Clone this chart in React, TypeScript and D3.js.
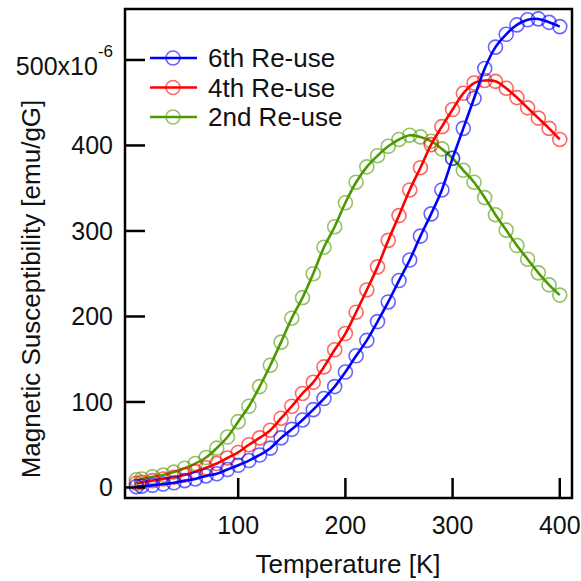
import React from "react";
import * as d3 from "d3";

const tempK = [5, 10, 20, 30, 40, 50, 60, 70, 80, 90, 100, 110, 120, 130, 140, 150, 160, 170, 180, 190, 200, 210, 220, 230, 240, 250, 260, 270, 280, 290, 300, 310, 320, 330, 340, 350, 360, 370, 380, 390, 400];

const reuse6 = [1, 1.5, 2.5, 4, 5.5, 8, 10, 13.5, 16, 21, 26, 31.5, 38, 46, 58, 68, 79, 91, 104, 118, 135, 154, 172, 194, 217, 242, 266, 294, 320, 348, 385, 420, 455, 490, 515, 530, 541, 547, 548, 544, 539];
const reuse4 = [5, 6, 8, 10, 12, 14.5, 18.5, 23, 28, 34.5, 41, 50, 58, 67, 81, 95, 110, 123, 141, 161, 180, 205, 231, 258, 289, 318, 348, 374, 401, 422, 442, 461, 473, 476, 475, 467, 456, 444, 432, 420, 407];
const reuse2 = [9, 10, 12.5, 14.5, 18, 22.5, 28, 35, 46, 59, 77, 95, 118, 143, 170, 198, 222, 250, 281, 305, 333, 357, 375, 388, 399, 407, 412, 410, 405, 396, 385, 371, 357, 339, 319, 301, 283, 267, 251, 237, 225];

const seriesNames = ["6th Re-use", "4th Re-use", "2nd Re-use"];
const seriesColors = ["#0000ff", "#ff0000", "#4c9a00"];
const xTicks = [100, 200, 300, 400];
const yTicks = [0, 100, 200, 300, 400, 500];

const W = 581, H = 581;
const L = 125, R = 572, T = 9, B = 498;
const FONT = "'Liberation Sans', Arial, sans-serif";

export default function App() {
  const x = d3.scaleLinear().domain([-5.6, 411.4]).range([L, R]);
  const y = d3.scaleLinear().domain([-12.3, 559.6]).range([B, T]);
  const allSeries = [reuse6, reuse4, reuse2];
  const line = d3.line<number>()
    .x((_, i) => x(tempK[i]))
    .y((d) => y(d))
    .curve(d3.curveCatmullRom.alpha(0.5));
  const drawOrder = [2, 1, 0];
  return (
    <svg width={W} height={H} style={{ position: "absolute", left: 0, top: 0, background: "#fff" }} fontFamily={FONT}>
      <rect x={0} y={0} width={W} height={H} fill="#fff" />
      <defs>
        <clipPath id="plotclip">
          <rect x={L} y={T} width={R - L} height={B - T} />
        </clipPath>
      </defs>
      <g clipPath="url(#plotclip)">
        {drawOrder.map((si) => (
          <g key={si}>
            {allSeries[si].map((v, i) => (
              <circle key={i} cx={x(tempK[i])} cy={y(v)} r={7} fill="none" stroke={seriesColors[si]} strokeOpacity={0.6} strokeWidth={1.6} />
            ))}
            <path d={line(allSeries[si]) || ""} fill="none" stroke={seriesColors[si]} strokeWidth={2.6} />
          </g>
        ))}
      </g>
      <rect x={L} y={T} width={R - L} height={B - T} fill="none" stroke="#000" strokeWidth={2.5} />
      {xTicks.map((t) => (
        <g key={t}>
          <line x1={x(t)} x2={x(t)} y1={B} y2={B - 20} stroke="#000" strokeWidth={2.5} />
          <text x={x(t)} y={533.5} textAnchor="middle" fontSize={25} fill="#111">{t}</text>
        </g>
      ))}
      {yTicks.map((t) => (
        <g key={t}>
          <line x1={L} x2={L + 20} y1={y(t)} y2={y(t)} stroke="#000" strokeWidth={2.5} />
          {t === 500 ? (
            <text x={113} y={y(t) + 15} textAnchor="end" fontSize={25} fill="#111">
              500x10<tspan dy={-18} fontSize={17}>-6</tspan>
            </text>
          ) : (
            <text x={113} y={y(t) + 9} textAnchor="end" fontSize={25} fill="#111">{t}</text>
          )}
        </g>
      ))}
      <text x={348} y={573} textAnchor="middle" fontSize={26} fill="#111">Temperature [K]</text>
      <text transform="translate(40,289) rotate(-90)" textAnchor="middle" fontSize={26} fill="#111">Magnetic Susceptibility [emu/gG]</text>
      {seriesNames.map((n, i) => {
        const ly = 58 + i * 29.5;
        return (
          <g key={n}>
            <line x1={150} x2={197} y1={ly} y2={ly} stroke={seriesColors[i]} strokeWidth={2.6} />
            <circle cx={173} cy={ly} r={7} fill="none" stroke={seriesColors[i]} strokeOpacity={0.6} strokeWidth={1.6} />
            <text x={208} y={ly + 9} fontSize={26} fill="#111">{n}</text>
          </g>
        );
      })}
    </svg>
  );
}
